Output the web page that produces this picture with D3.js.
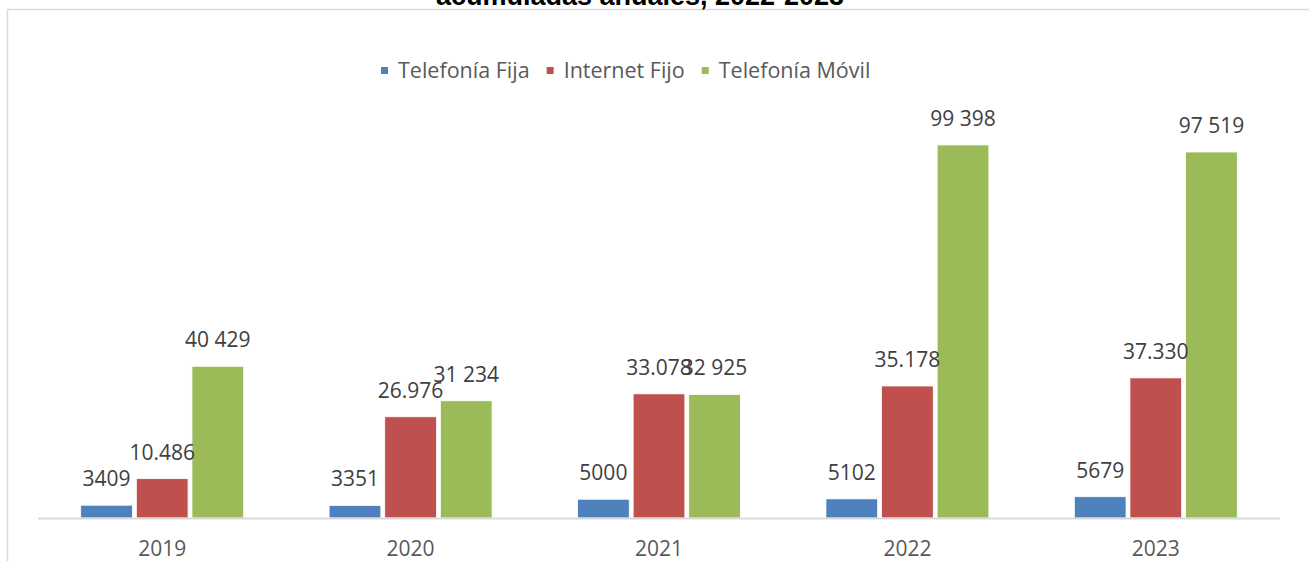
<!DOCTYPE html>
<html>
<head>
<meta charset="utf-8">
<script src="https://cdn.jsdelivr.net/npm/d3@7"></script>
<style>
  html, body { margin: 0; padding: 0; background: #fff; }
  svg { display: block; }
</style>
</head>
<body>
<svg id="chart" width="1309" height="561"></svg>
<script>
const years = ["2019", "2020", "2021", "2022", "2023"];
const seriesNames = ["Telefonía Fija", "Internet Fijo", "Telefonía Móvil"];
const telefoniaFija = [3409, 3351, 5000, 5102, 5679];
const internetFijo = [10486, 26976, 33078, 35178, 37330];
const telefoniaMovil = [40429, 31234, 32925, 99398, 97519];
const colors = ["#4F81BD", "#C0504D", "#9BBB59"];
const titleText = "acumuladas anuales, 2022-2023";

const seriesValues = [telefoniaFija, internetFijo, telefoniaMovil];
const fmtPlain = d3.formatLocale({decimal: ",", thousands: "", grouping: [3], currency: ["", ""]}).format("d");
const fmtDot = d3.formatLocale({decimal: ",", thousands: ".", grouping: [3], currency: ["", ""]}).format(",d");
const fmtSpace = d3.formatLocale({decimal: ",", thousands: " ", grouping: [3], currency: ["", ""]}).format(",d");
const formats = [fmtPlain, fmtDot, fmtSpace];

const svg = d3.select("#chart");
const font = "'Open Sans', 'DejaVu Sans', sans-serif";

// frame
svg.append("rect").attr("x", 7.5).attr("y", 9.5).attr("width", 1400).attr("height", 600)
  .attr("fill", "none").attr("stroke", "#d9d9d9").attr("stroke-width", 1.5);

// title (clipped at the top)
svg.append("text").attr("x", 640).attr("y", 5).attr("text-anchor", "middle")
  .attr("font-family", "'Liberation Sans', Arial, sans-serif").attr("font-weight", "bold")
  .attr("font-size", 27).attr("fill", "#000").text(titleText);

const left = 38, right = 1280, baseY = 518;
const x0 = d3.scaleBand().domain(years).range([left, right]).paddingInner(0.344).paddingOuter(0.172);
const x1 = d3.scaleBand().domain(seriesNames).range([0, x0.bandwidth()]).paddingInner(0.07);
const y = d3.scaleLinear().domain([0, 120000]).range([baseY, baseY - 120000 * 0.003753]);

const data = [];
years.forEach((yr, i) => {
  seriesNames.forEach((s, j) => {
    data.push({year: yr, series: s, j: j, value: seriesValues[j][i]});
  });
});

// bars
svg.append("g").selectAll("rect").data(data).join("rect")
  .attr("x", d => x0(d.year) + x1(d.series))
  .attr("y", d => y(d.value))
  .attr("width", x1.bandwidth())
  .attr("height", d => baseY - y(d.value))
  .attr("fill", d => colors[d.j])
  .attr("stroke", "#ffffff").attr("stroke-width", 0.8);

// axis line
svg.append("line").attr("x1", left).attr("x2", right).attr("y1", baseY + 0.5).attr("y2", baseY + 0.5)
  .attr("stroke", "#d9d9d9").attr("stroke-width", 2);

// x axis labels
const xAxis = d3.axisBottom(x0).tickSize(0).tickPadding(0);
const gx = svg.append("g").attr("transform", `translate(0,${baseY})`).call(xAxis);
gx.select(".domain").remove();
gx.selectAll("text").attr("dy", null).attr("y", 38)
  .attr("font-family", font).attr("font-size", 21).attr("fill", "#595959");

// data labels
svg.append("g").selectAll("text").data(data).join("text")
  .attr("x", d => x0(d.year) + x1(d.series) + x1.bandwidth() / 2)
  .attr("y", d => y(d.value) - 19)
  .attr("text-anchor", "middle")
  .attr("font-family", font).attr("font-size", 21).attr("fill", "#404040")
  .text(d => formats[d.j](d.value));

// legend
const lg = svg.append("g");
let lx = 381;
const ly = 71;
seriesNames.forEach((s, j) => {
  lg.append("rect").attr("x", lx).attr("y", ly - 4).attr("width", 7).attr("height", 7).attr("fill", colors[j]);
  const t = lg.append("text").attr("x", lx + 17).attr("y", ly + 7)
    .attr("font-family", font).attr("font-size", 21.5).attr("fill", "#595959").text(s);
  const w = t.node().getComputedTextLength();
  lx = lx + 17 + w + 17;
});
</script>
</body>
</html>
